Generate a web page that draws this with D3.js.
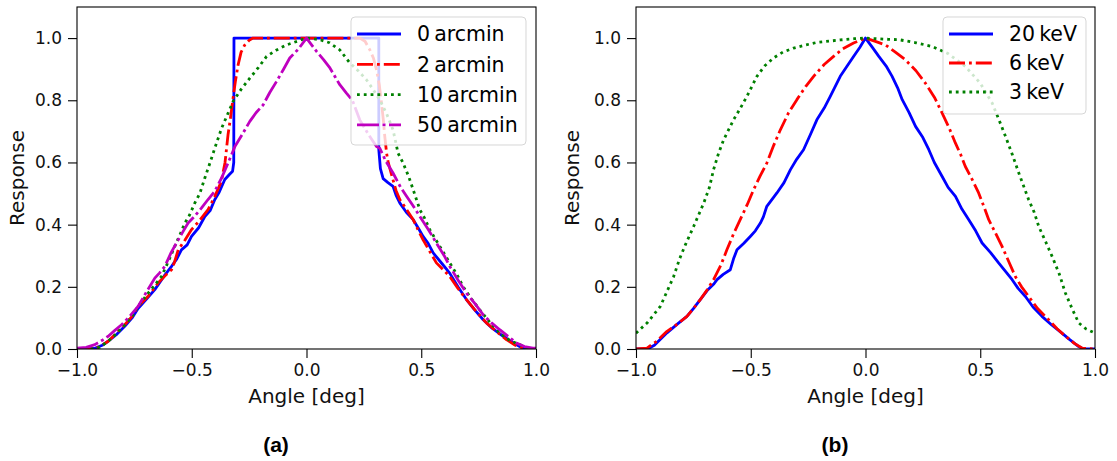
<!DOCTYPE html>
<html><head><meta charset="utf-8">
<script src="https://cdn.jsdelivr.net/npm/d3@7"></script>
<style>
html,body{margin:0;padding:0;background:#fff;}
svg text{font-family:"DejaVu Sans",sans-serif;}
</style></head>
<body>
<svg id="chart" width="1117" height="461"></svg>
<script>
// ---- Data ----
const xTicks = [-1.0, -0.5, 0.0, 0.5, 1.0];
const yTicks = [0.0, 0.2, 0.4, 0.6, 0.8, 1.0];

// Panel (a): offset angles
const labelsA = ["0\u2009arcmin", "2\u2009arcmin", "10\u2009arcmin", "50\u2009arcmin"];
const xA0 = [-1,-0.95,-0.92,-0.89,-0.864,-0.83,-0.792,-0.76,-0.734,-0.70,-0.661,-0.62,-0.588,-0.565,-0.545,-0.52,-0.501,-0.47,-0.443,-0.42,-0.40,-0.38,-0.356,-0.335,-0.322,-0.317,-0.316,0.315,0.315,0.322,0.334,0.355,0.377,0.39,0.407,0.435,0.465,0.49,0.508,0.53,0.552,0.59,0.624,0.66,0.697,0.73,0.77,0.81,0.857,0.89,0.929,0.95,1.0];
const yA0 = [0,0,0.003,0.012,0.025,0.045,0.073,0.1,0.13,0.158,0.191,0.235,0.266,0.29,0.319,0.335,0.362,0.39,0.426,0.445,0.48,0.505,0.545,0.562,0.572,0.6,1.0,1.0,0.641,0.58,0.548,0.535,0.523,0.495,0.469,0.44,0.416,0.385,0.362,0.34,0.309,0.275,0.244,0.2,0.159,0.128,0.094,0.066,0.041,0.025,0.008,0,0];
const xA2 = [-1,-0.93,-0.9,-0.864,-0.83,-0.792,-0.76,-0.734,-0.69,-0.647,-0.61,-0.588,-0.575,-0.559,-0.53,-0.501,-0.47,-0.429,-0.40,-0.371,-0.355,-0.342,-0.33,-0.32,-0.31,-0.298,-0.285,-0.269,-0.25,-0.233,0.232,0.255,0.276,0.292,0.305,0.317,0.327,0.335,0.341,0.349,0.356,0.377,0.39,0.407,0.435,0.465,0.485,0.508,0.54,0.566,0.6,0.624,0.66,0.697,0.74,0.784,0.83,0.871,0.91,0.944,1.0];
const yA2 = [0,0,0.008,0.025,0.05,0.078,0.105,0.137,0.17,0.212,0.24,0.255,0.28,0.319,0.35,0.384,0.41,0.448,0.49,0.539,0.6,0.689,0.75,0.807,0.86,0.914,0.955,0.978,0.993,1.0,1.0,0.99,0.962,0.935,0.898,0.85,0.791,0.735,0.684,0.63,0.6,0.544,0.51,0.48,0.45,0.416,0.385,0.351,0.31,0.277,0.252,0.233,0.195,0.159,0.12,0.084,0.055,0.03,0.012,0.003,0];
const xA10 = [-1,-0.93,-0.9,-0.864,-0.83,-0.792,-0.76,-0.734,-0.69,-0.662,-0.632,-0.6,-0.574,-0.55,-0.53,-0.51,-0.487,-0.465,-0.443,-0.42,-0.4,-0.37,-0.32,-0.285,-0.247,-0.21,-0.174,-0.13,-0.087,-0.04,0,0.058,0.1,0.145,0.189,0.225,0.261,0.29,0.319,0.35,0.377,0.399,0.421,0.445,0.465,0.494,0.515,0.537,0.581,0.624,0.655,0.682,0.72,0.755,0.8,0.842,0.885,0.929,0.96,1.0];
const yA10 = [0,0,0.006,0.025,0.048,0.078,0.105,0.137,0.18,0.205,0.233,0.285,0.33,0.37,0.405,0.43,0.469,0.5,0.55,0.6,0.645,0.71,0.796,0.835,0.871,0.905,0.941,0.962,0.978,0.99,1.0,0.995,0.985,0.962,0.92,0.895,0.866,0.835,0.802,0.755,0.705,0.63,0.598,0.555,0.512,0.448,0.42,0.384,0.33,0.277,0.24,0.201,0.16,0.126,0.085,0.051,0.028,0.014,0.004,0];
const xA50 = [-1,-0.96,-0.922,-0.89,-0.864,-0.835,-0.806,-0.77,-0.734,-0.70,-0.661,-0.64,-0.617,-0.59,-0.559,-0.54,-0.516,-0.49,-0.458,-0.43,-0.4,-0.37,-0.342,-0.312,-0.28,-0.247,-0.22,-0.189,-0.16,-0.131,-0.1,-0.073,-0.035,0,0.044,0.075,0.102,0.125,0.145,0.174,0.2,0.232,0.27,0.305,0.319,0.345,0.377,0.41,0.436,0.465,0.494,0.53,0.566,0.6,0.624,0.66,0.697,0.735,0.77,0.805,0.842,0.88,0.915,0.95,0.987,1.0];
const yA50 = [0.003,0.005,0.014,0.028,0.041,0.06,0.078,0.105,0.137,0.18,0.228,0.245,0.266,0.31,0.351,0.375,0.405,0.425,0.453,0.48,0.507,0.55,0.598,0.651,0.69,0.732,0.76,0.785,0.825,0.86,0.9,0.936,0.965,1.0,0.957,0.93,0.904,0.875,0.85,0.823,0.8,0.737,0.69,0.651,0.646,0.605,0.566,0.52,0.491,0.46,0.426,0.385,0.341,0.3,0.266,0.222,0.18,0.145,0.11,0.085,0.062,0.04,0.019,0.008,0.003,0.003];

// Panel (b): energies
const labelsB = ["20\u2009keV", "6\u2009keV", "3\u2009keV"];
const xB20 = [-1,-0.95,-0.92,-0.865,-0.82,-0.778,-0.75,-0.72,-0.69,-0.66,-0.647,-0.62,-0.589,-0.575,-0.56,-0.53,-0.502,-0.48,-0.458,-0.445,-0.43,-0.386,-0.355,-0.327,-0.3,-0.27,-0.24,-0.212,-0.18,-0.154,-0.11,-0.08,-0.052,-0.025,0,0.03,0.058,0.09,0.116,0.14,0.16,0.19,0.218,0.25,0.276,0.3,0.334,0.36,0.392,0.42,0.45,0.48,0.508,0.545,0.58,0.61,0.639,0.665,0.697,0.73,0.769,0.81,0.856,0.89,0.929,0.95,1.0];
const yB20 = [0,0,0.012,0.052,0.08,0.105,0.13,0.159,0.188,0.21,0.223,0.24,0.255,0.29,0.319,0.34,0.362,0.38,0.405,0.425,0.459,0.502,0.535,0.577,0.61,0.641,0.69,0.737,0.775,0.812,0.877,0.91,0.941,0.97,1.0,0.97,0.941,0.91,0.877,0.84,0.802,0.76,0.716,0.68,0.641,0.6,0.555,0.52,0.491,0.45,0.416,0.38,0.341,0.31,0.277,0.25,0.223,0.195,0.169,0.135,0.105,0.078,0.051,0.03,0.008,0,0];
const xB6 = [-1,-0.952,-0.91,-0.865,-0.82,-0.778,-0.75,-0.72,-0.69,-0.662,-0.63,-0.604,-0.575,-0.546,-0.515,-0.488,-0.46,-0.43,-0.4,-0.371,-0.335,-0.299,-0.26,-0.226,-0.18,-0.139,-0.1,-0.052,0,0.04,0.087,0.13,0.174,0.22,0.261,0.3,0.334,0.365,0.392,0.415,0.435,0.465,0.493,0.515,0.537,0.565,0.595,0.625,0.653,0.68,0.711,0.75,0.798,0.835,0.871,0.91,0.943,1.0];
const yB6 = [0,0.003,0.025,0.057,0.08,0.105,0.13,0.159,0.19,0.223,0.27,0.319,0.37,0.416,0.465,0.512,0.555,0.598,0.655,0.705,0.76,0.802,0.845,0.877,0.915,0.941,0.965,0.984,1.0,0.99,0.978,0.955,0.93,0.895,0.855,0.81,0.759,0.71,0.662,0.625,0.587,0.545,0.502,0.46,0.416,0.375,0.33,0.28,0.233,0.2,0.169,0.13,0.094,0.065,0.041,0.018,0.003,0];
const xB3 = [-1,-0.95,-0.894,-0.865,-0.836,-0.81,-0.785,-0.749,-0.705,-0.68,-0.662,-0.64,-0.618,-0.575,-0.545,-0.517,-0.473,-0.44,-0.401,-0.36,-0.313,-0.26,-0.212,-0.16,-0.11,-0.05,0,0.05,0.1,0.145,0.22,0.29,0.36,0.435,0.5,0.552,0.58,0.61,0.64,0.668,0.711,0.735,0.755,0.785,0.813,0.845,0.871,0.9,0.929,0.96,1.0];
const yB3 = [0.051,0.085,0.137,0.185,0.233,0.29,0.335,0.394,0.469,0.52,0.577,0.63,0.673,0.737,0.775,0.812,0.877,0.91,0.936,0.955,0.968,0.978,0.986,0.99,0.994,0.998,1.0,0.998,0.996,0.995,0.985,0.973,0.95,0.909,0.855,0.791,0.74,0.684,0.625,0.566,0.48,0.44,0.394,0.345,0.298,0.24,0.18,0.13,0.084,0.065,0.051];

// ---- Styles ----
const styleA = [
  {color:"#0000ff", dash:null},
  {color:"#ff0000", dash:"16,4,2.8,4"},
  {color:"#008000", dash:"2.8,4"},
  {color:"#bf00bf", dash:"22,3.5,3,3.5"}
];
const styleB = [
  {color:"#0000ff", dash:null},
  {color:"#ff0000", dash:"16,4,2.8,4"},
  {color:"#008000", dash:"2.8,4"}
];

const svg = d3.select("#chart");
const zip = (xs, ys) => xs.map((x,i)=>[x, ys[i]]);

function panel(cfg){
  const {left, right, top, bottom, series, styles, labels, legend, ylabX, tag, tagX, id} = cfg;
  const x = d3.scaleLinear().domain([-1,1]).range([left,right]);
  const y = d3.scaleLinear().domain([0,1.1]).range([bottom,top]);
  const g = svg.append("g");

  g.append("clipPath").attr("id","clip"+id).append("rect")
    .attr("x",left).attr("y",top).attr("width",right-left).attr("height",bottom-top);

  const line = d3.line().x(d=>x(d[0])).y(d=>y(d[1]));
  const lg = g.append("g").attr("clip-path","url(#clip"+id+")");
  series.forEach((s,i)=>{
    lg.append("path").attr("d", line(s))
      .attr("fill","none").attr("stroke", styles[i].color)
      .attr("stroke-width",2.8)
      .attr("stroke-linejoin","round")
      .attr("stroke-dasharray", styles[i].dash);
  });

  // axes
  const ax = g.append("g").attr("transform",`translate(0,${bottom})`)
    .call(d3.axisBottom(x).tickValues(xTicks).tickFormat(d3.format(".1f")).tickSize(9).tickPadding(6));
  const ay = g.append("g").attr("transform",`translate(${left},0)`)
    .call(d3.axisLeft(y).tickValues(yTicks).tickFormat(d3.format(".1f")).tickSize(9).tickPadding(6));
  [ax,ay].forEach(a=>{
    a.select(".domain").remove();
    a.selectAll("line").attr("stroke","#000").attr("stroke-width",1.1);
    a.selectAll("text").attr("font-size",17).attr("fill","#111").attr("font-family","DejaVu Sans");
  });
  // spines
  g.append("rect").attr("x",left).attr("y",top).attr("width",right-left).attr("height",bottom-top)
    .attr("fill","none").attr("stroke","#000").attr("stroke-width",1.1);

  // labels
  g.append("text").attr("x",(left+right)/2).attr("y",403).attr("text-anchor","middle")
    .attr("font-size",20).attr("fill","#111").text("Angle [deg]");
  g.append("text").attr("transform",`translate(${ylabX},${(top+bottom)/2}) rotate(-90)`)
    .attr("text-anchor","middle").attr("font-size",20).attr("fill","#111").text("Response");
  g.append("text").attr("x",tagX).attr("y",452).attr("text-anchor","middle")
    .attr("font-size",21).attr("font-weight","bold")
    .style("font-family","'Liberation Sans', Arial, sans-serif").text(tag);

  // legend
  const L = legend;
  g.append("rect").attr("x",L.x).attr("y",L.y).attr("width",L.w).attr("height",L.h)
    .attr("rx",4).attr("ry",4).attr("fill","#fff").attr("fill-opacity",0.8)
    .attr("stroke","#cccccc").attr("stroke-opacity",0.8).attr("stroke-width",1);
  labels.forEach((lab,i)=>{
    const cy = L.y + L.first + i*L.step;
    g.append("line").attr("x1",L.x+6).attr("x2",L.x+50).attr("y1",cy).attr("y2",cy)
      .attr("stroke",styles[i].color).attr("stroke-width",2.8)
      .attr("stroke-dasharray",styles[i].dash);
    g.append("text").attr("x",L.x+66).attr("y",cy).attr("dy","0.36em")
      .attr("font-size",20.5).attr("fill","#000").text(lab);
  });
}

panel({
  id:"a", left:77, right:536, top:7, bottom:349,
  series:[zip(xA0,yA0), zip(xA2,yA2), zip(xA10,yA10), zip(xA50,yA50)],
  styles:styleA, labels:labelsA,
  legend:{x:351, y:17, w:175, h:128, first:17, step:30.3},
  ylabX:24, tag:"(a)", tagX:276
});
panel({
  id:"b", left:636, right:1095, top:7, bottom:349,
  series:[zip(xB20,yB20), zip(xB6,yB6), zip(xB3,yB3)],
  styles:styleB, labels:labelsB,
  legend:{x:943, y:17, w:143, h:97, first:17, step:29},
  ylabX:579, tag:"(b)", tagX:835
});
</script>
</body></html>
